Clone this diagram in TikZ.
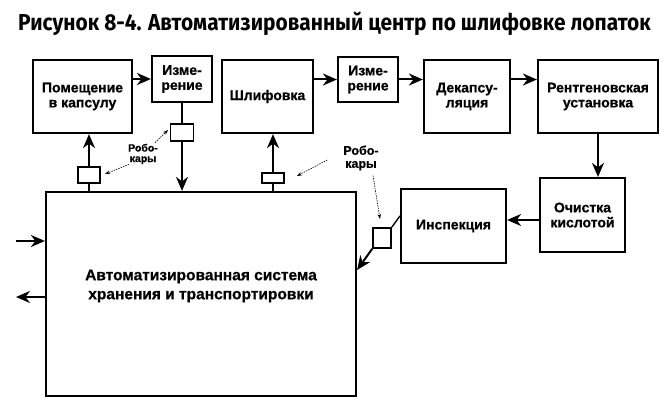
\documentclass[tikz,border=0pt]{standalone}
\usepackage{fontspec}
\usepackage{graphicx}
\setmainfont{Liberation Sans}[BoldFeatures={FakeBold=0.7}]
\newfontfamily\titlefont{Fira Sans}
\usetikzlibrary{arrows.meta}
\begin{document}
\begin{tikzpicture}[x=1pt,y=-1pt,
  blk/.style={draw, line width=2.2pt, align=center, inner sep=0pt, fill=white,
    font=\bfseries\fontsize{14}{15}\selectfont},
  sq/.style={draw, line width=1.8pt, fill=white, inner sep=0pt},
  arr/.style={line width=2pt, -{Stealth[length=14pt,width=12pt,inset=4.5pt]}},
  ln/.style={line width=2pt},
  thinln/.style={line width=1.4pt},
  dar/.style={line width=0.6pt, dash pattern=on 1.5pt off 1pt, -{Stealth[length=5pt,width=3.5pt]}},
  lab/.style={align=center, inner sep=0pt}]
\useasboundingbox (0,0) rectangle (672,420);

\node[anchor=base west, inner sep=0pt] (title) at (18,31)
  {\titlefont\bfseries\fontsize{23}{23}\selectfont\scalebox{0.908}[1]{Рисунок 8-4. Автоматизированный центр по шлифовке лопаток}};

\node[blk, minimum width=99pt, minimum height=73pt] (b1) at (82.5,96.5) {Помещение\\в капсулу};
\node[blk, minimum width=60pt, minimum height=46pt] (b2) at (182,79) {Изме-\\рение};
\node[blk, minimum width=91pt, minimum height=73pt] (b3) at (267.5,96.5) {Шлифовка};
\node[blk, minimum width=60pt, minimum height=45pt] (b4) at (368,79.5) {Изме-\\рение};
\node[blk, minimum width=86pt, minimum height=73pt] (b5) at (467,96.5) {Декапсу-\\ляция};
\node[blk, minimum width=120pt, minimum height=73pt] (b6) at (598,96.5) {Рентгеновская\\установка};
\node[blk, minimum width=85pt, minimum height=74pt] (b7) at (582.5,215) {Очистка\\кислотой};
\node[blk, minimum width=105pt, minimum height=74pt] (b8) at (453.5,226) {Инспекция};
\node[blk, minimum width=310pt, minimum height=204pt] (main) at (201,294) {};
\node[lab, font=\bfseries\fontsize{15.5}{19}\selectfont] (maintext) at (201,286)
  {Автоматизированная система\\хранения и транспортировки};

\node[sq, minimum width=22pt, minimum height=16pt] (s1) at (89,175) {};
\node[sq, minimum width=23pt, minimum height=17pt] (s2) at (182,132.5) {};
\node[sq, minimum width=22pt, minimum height=10pt] (s3) at (273,178) {};
\node[sq, minimum width=18pt, minimum height=20pt] (s4) at (382,238) {};

\node[lab, font=\bfseries\fontsize{10.5}{10.5}\selectfont] (l1) at (143,154) {Робо-\\кары};
\node[lab, font=\bfseries\fontsize{12.5}{13}\selectfont] (l2) at (361,158) {Робо-\\кары};

% top row
\draw[arr] (b1.east |- b2.west) -- (b2.west);
\draw[arr] (b3.east |- b4.west) -- (b4.west);
\draw[arr] (b4.east) -- (b4.east -| b5.west);
\draw[arr] (b5.east |- b4.east) -- (b6.west |- b4.east);
\draw[arr] (b6.south) -- (b6.south |- b7.north);
\draw[arr] ([yshift=-5pt]b7.west) -- ([yshift=-5pt]b7.west -| b8.east);

% storage links
\draw[ln] (b2.south) -- (s2.north);
\draw[arr] (s2.south) -- (s2.south |- main.north);
\draw[ln] (s1.south) -- (s1.south |- main.north);
\draw[arr] (s1.north) -- (s1.north |- b1.south);
\draw[ln] (s3.south) -- (s3.south |- main.north);
\draw[arr] (s3.north) -- (s3.north |- b3.south);
\draw[thinln] (s4.north east) -- ([yshift=10pt]b8.west);
\draw[arr] (s4.south west) -- ([yshift=24pt]main.east);

% in / out
\coordinate (inp) at (16,241);
\coordinate (outp) at (16,297);
\draw[arr] (inp) -- (inp -| main.west);
\draw[arr] (main.west |- outp) -- (outp);

% robocar pointers
\coordinate (p1) at (168,130);
\coordinate (p2) at (105,174);
\coordinate (p3) at (297,176);
\coordinate (p4) at (380,219);
\draw[dar] ([xshift=-3pt,yshift=1pt]l1.north east) -- (p1);
\draw[dar] ([xshift=-14pt]l1.south) -- (p2);
\draw[dar] ([xshift=-16pt,yshift=-2pt]l2.west) -- (p3);
\draw[dar] ([xshift=12pt,yshift=-5pt]l2.south) -- (p4);
\end{tikzpicture}
\end{document}
